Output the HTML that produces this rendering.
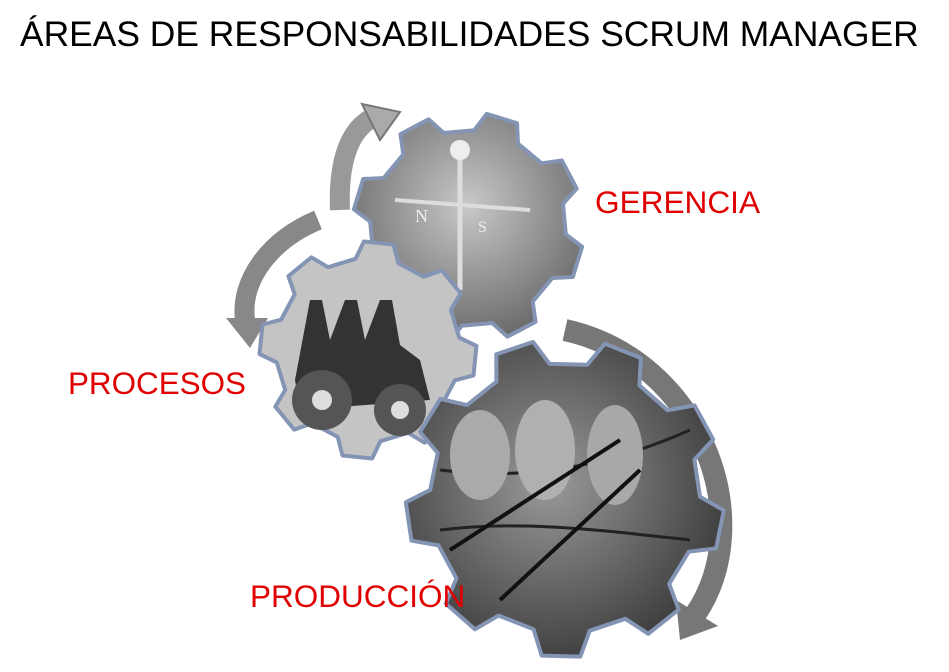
<!DOCTYPE html>
<html><head><meta charset="utf-8">
<style>
html,body{margin:0;padding:0;background:#fff;}
#c{position:relative;width:949px;height:672px;overflow:hidden;font-family:"Liberation Sans",sans-serif;}
.t{position:absolute;white-space:nowrap;}
</style></head><body>
<div id="c">
<svg id="s" width="949" height="672" style="position:absolute;left:0;top:0">
<defs>
<radialGradient id="g1" cx="50%" cy="40%" r="60%"><stop offset="0" stop-color="#c8c8c8"/><stop offset="1" stop-color="#6a6a6a"/></radialGradient>
<radialGradient id="g3" cx="45%" cy="45%" r="60%"><stop offset="0" stop-color="#9a9a9a"/><stop offset="1" stop-color="#3a3a3a"/></radialGradient>
</defs>
<path d="M340,210 C338,160 350,130 372,118" fill="none" stroke="#999" stroke-width="20"/>
<polygon points="362,104 400,112 380,140" fill="#aaa" stroke="#777" stroke-width="2"/>
<path d="M318,220 C270,240 240,280 245,320" fill="none" stroke="#888" stroke-width="20"/>
<polygon points="226,318 268,318 250,348" fill="#888"/>
<path d="M565,330 C700,360 760,520 695,615" fill="none" stroke="#777" stroke-width="22"/>
<polygon points="676,600 718,626 680,640" fill="#777"/>
<g id="gears"></g>
</svg>
<div class="t" style="left:20px;top:14px;font-size:35.4px;color:#000;">ÁREAS DE RESPONSABILIDADES SCRUM MANAGER</div>
<div class="t" style="left:595px;top:184px;font-size:31.6px;color:#e00000;">GERENCIA</div>
<div class="t" style="left:68px;top:366px;font-size:31.4px;color:#e00000;">PROCESOS</div>
<div class="t" style="left:250px;top:578px;font-size:31.5px;color:#e00000;">PRODUCCIÓN</div>
</div>
<script>
function gear(cx,cy,r,n,rot,fill){
 var p=[],to=r*1.18;
 for(var i=0;i<n;i++){
  var a=rot+i*2*Math.PI/n, w=Math.PI/n;
  var pts=[[r,a-w*0.6],[to,a-w*0.35],[to,a+w*0.35],[r,a+w*0.6]];
  pts.forEach(function(q){p.push((cx+q[0]*Math.cos(q[1])).toFixed(1)+","+(cy+q[0]*Math.sin(q[1])).toFixed(1));});
 }
 return '<polygon points="'+p.join(" ")+'" fill="'+fill+'" stroke="#8494b4" stroke-width="4" stroke-linejoin="round"/>';
}
var h="";
h+=gear(468,228,98,8,0.3,"url(#g1)");
h+='<line x1="460" y1="150" x2="460" y2="290" stroke="#ddd" stroke-width="5"/><line x1="395" y1="200" x2="530" y2="210" stroke="#ddd" stroke-width="4"/><circle cx="460" cy="150" r="10" fill="#eee"/><text x="415" y="222" font-size="18" fill="#eee" font-family="Liberation Serif">N</text><text x="478" y="232" font-size="16" fill="#eee" font-family="Liberation Serif">S</text>';
h+=gear(368,350,92,8,0.1,"#c4c4c4");
h+='<path d="M295,380 L310,300 L322,300 L330,340 L345,300 L357,300 L365,340 L380,300 L392,300 L400,345 L420,360 L430,400 L300,410 Z" fill="#333"/><circle cx="322" cy="400" r="30" fill="#555"/><circle cx="322" cy="400" r="10" fill="#ddd"/><circle cx="400" cy="410" r="26" fill="#555"/><circle cx="400" cy="410" r="9" fill="#ddd"/>';
h+=gear(565,498,135,9,0.2,"url(#g3)");
h+='<path d="M440,470 C520,480 600,470 690,430" stroke="#222" stroke-width="3" fill="none"/><path d="M440,530 C520,520 600,530 690,540" stroke="#222" stroke-width="3" fill="none"/><ellipse cx="480" cy="455" rx="30" ry="45" fill="#aaa"/><ellipse cx="545" cy="450" rx="30" ry="50" fill="#b0b0b0"/><ellipse cx="615" cy="455" rx="28" ry="50" fill="#a8a8a8"/><path d="M450,550 L620,440 M500,600 L640,470" stroke="#111" stroke-width="4"/>';
document.getElementById("gears").innerHTML=h;
</script>
</body></html>
